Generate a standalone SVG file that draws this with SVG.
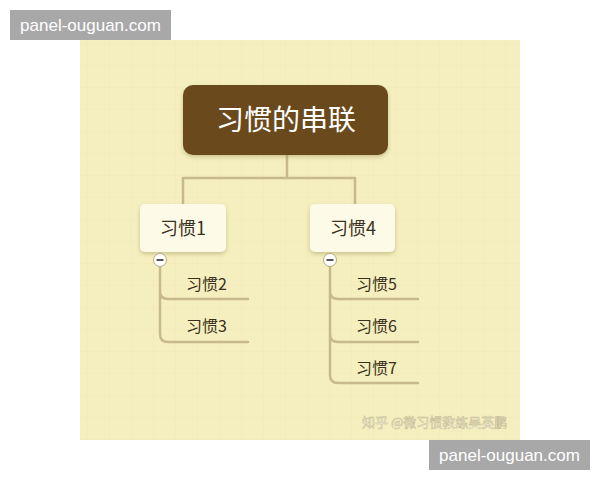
<svg xmlns="http://www.w3.org/2000/svg" width="600" height="480" viewBox="0 0 600 480">
<defs>
<style>
.lbl{font-family:"Noto Sans CJK SC","Liberation Sans",sans-serif;fill:#3a3020}
.wm{font-family:"Liberation Sans",sans-serif;font-size:17px;fill:#ffffff}
.ln{fill:none;stroke:#c8b98a;stroke-width:2.5;stroke-linecap:round}
.grid{stroke:#ede5ab;stroke-width:1}
</style>
<filter id="sh" x="-20%" y="-20%" width="140%" height="150%">
<feDropShadow dx="0" dy="2" stdDeviation="2" flood-color="#8a7a40" flood-opacity="0.4"/>
</filter>
<pattern id="gp" width="22" height="22" patternUnits="userSpaceOnUse">
<path d="M22 0V22M0 22H22" class="grid" fill="none"/>
</pattern>
</defs>
<rect width="600" height="480" fill="#ffffff"/>
<rect x="80" y="40" width="440" height="400" fill="#f5efbf"/>
<rect x="80" y="40" width="440" height="400" fill="url(#gp)" opacity="0.5"/>
<g id="connectors">
<path class="ln" d="M287 155V178M183 178H355M183 178V205M355 178V205"/>
<path class="ln" d="M160 266V291Q160 299 168 299H248M160 291V334Q160 342 168 342H248"/>
<path class="ln" d="M330 266V291Q330 299 338 299H418M330 291V334Q330 342 338 342H418M330 334V375Q330 383 338 383H418"/>
</g>
<g id="root">
<rect x="183" y="85" width="205" height="70" rx="10" fill="#6b4a1e" filter="url(#sh)"/>
<text x="286" y="130" text-anchor="middle" class="lbl" style="font-size:28px;fill:#ffffff">习惯的串联</text>
</g>
<g id="n1">
<rect x="140" y="204" width="86" height="48" rx="5" fill="#fdfbe8" filter="url(#sh)"/>
<text x="183" y="235" text-anchor="middle" class="lbl" font-size="18">习惯1</text>
</g>
<g id="n4">
<rect x="310" y="204" width="85" height="48" rx="5" fill="#fdfbe8" filter="url(#sh)"/>
<text x="353" y="235" text-anchor="middle" class="lbl" font-size="18">习惯4</text>
</g>
<g id="c1">
<circle cx="160" cy="260" r="6.5" fill="#ffffff" stroke="#b8ab80" stroke-width="1"/>
<path d="M156.5 260H163.5" stroke="#555" stroke-width="2"/>
</g>
<g id="c4">
<circle cx="330" cy="260" r="6.5" fill="#ffffff" stroke="#b8ab80" stroke-width="1"/>
<path d="M326.5 260H333.5" stroke="#555" stroke-width="2"/>
</g>
<g id="n2"><text x="186" y="290" class="lbl" font-size="16">习惯2</text></g>
<g id="n3"><text x="186" y="332" class="lbl" font-size="16">习惯3</text></g>
<g id="n5"><text x="356" y="290" class="lbl" font-size="16">习惯5</text></g>
<g id="n6"><text x="356" y="332" class="lbl" font-size="16">习惯6</text></g>
<g id="n7"><text x="356" y="374" class="lbl" font-size="16">习惯7</text></g>
<text x="362" y="427" font-family="Noto Sans CJK SC,sans-serif" font-size="13" fill="#ffffff" stroke="#c9bf95" stroke-width="0.6">知乎 @微习惯教练吴英鹏</text>
<rect x="10" y="10" width="161" height="30" fill="#a8a8a8"/>
<text x="90.5" y="31" text-anchor="middle" class="wm">panel-ouguan.com</text>
<rect x="429" y="440" width="161" height="30" fill="#a8a8a8"/>
<text x="509.5" y="461" text-anchor="middle" class="wm">panel-ouguan.com</text>
</svg>
